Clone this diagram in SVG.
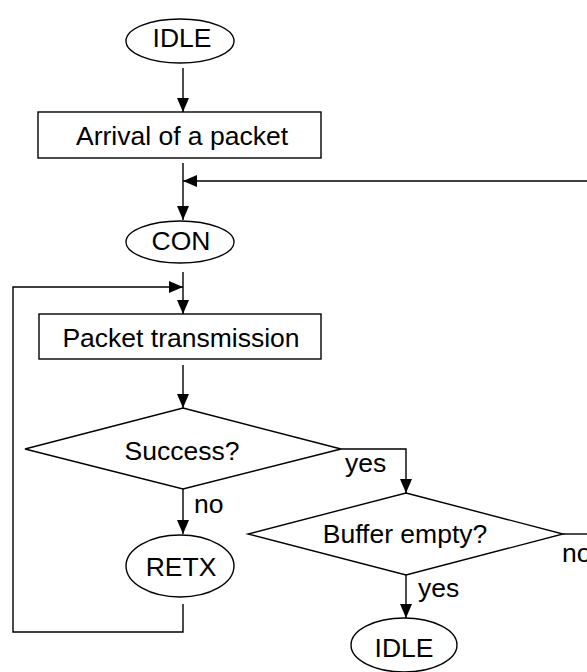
<svg xmlns="http://www.w3.org/2000/svg" width="587" height="672" viewBox="0 0 587 672">
<style>
.s{fill:#fff;stroke:#000;stroke-width:1.4}
.t{font-family:"Liberation Sans",Arial,sans-serif;font-size:26.5px;fill:#000;text-anchor:middle}
.l{font-family:"Liberation Sans",Arial,sans-serif;font-size:26.5px;fill:#000}
.c{fill:none;stroke:#000;stroke-width:1.4}
</style>
<defs>
<marker id="a" viewBox="0 0 14 12" refX="14" refY="6" markerWidth="14" markerHeight="12" markerUnits="userSpaceOnUse" orient="auto">
<path d="M0,0L14,6L0,12z" fill="#000"/>
</marker>
</defs>
<g id="connectors">
<line class="c" x1="183" y1="68" x2="183" y2="112" marker-end="url(#a)"/>
<line class="c" x1="183" y1="163" x2="183" y2="220" marker-end="url(#a)"/>
<line class="c" x1="587" y1="181" x2="183" y2="181" marker-end="url(#a)"/>
<line class="c" x1="183" y1="272" x2="183" y2="314" marker-end="url(#a)"/>
<polyline class="c" points="183,604 183,632 13,632 13,287 183,287" marker-end="url(#a)"/>
<line class="c" x1="183" y1="365" x2="183" y2="408" marker-end="url(#a)"/>
<line class="c" x1="183" y1="489" x2="183" y2="534" marker-end="url(#a)"/>
<polyline class="c" points="341,449 406,449 406,493" marker-end="url(#a)"/>
<line class="c" x1="563" y1="534" x2="587" y2="534"/>
<line class="c" x1="406" y1="575" x2="406" y2="618" marker-end="url(#a)"/>
<text class="l" x="345" y="472">yes</text>
<text class="l" x="194" y="513">no</text>
<text class="l" x="562" y="562">no</text>
<text class="l" x="418" y="597">yes</text>
</g>
<g id="idle1">
<ellipse class="s" cx="180" cy="41" rx="54" ry="22"/>
<text class="t" x="182" y="47">IDLE</text>
</g>
<g id="arrival">
<rect class="s" x="38" y="112" width="283" height="46"/>
<text class="t" x="182" y="145">Arrival of a packet</text>
</g>
<g id="con">
<ellipse class="s" cx="180" cy="242" rx="54" ry="21"/>
<text class="t" x="181" y="250">CON</text>
</g>
<g id="tx">
<rect class="s" x="39" y="314" width="282" height="45"/>
<text class="t" x="181" y="347">Packet transmission</text>
</g>
<g id="success">
<polygon class="s" points="183,408 341,449 183,489 25,449"/>
<text class="t" x="182" y="460">Success?</text>
</g>
<g id="retx">
<ellipse class="s" cx="180" cy="566" rx="54" ry="31"/>
<text class="t" x="181" y="576">RETX</text>
</g>
<g id="buffer">
<polygon class="s" points="406,493 563,534 406,575 248,534"/>
<text class="t" x="405" y="543">Buffer empty?</text>
</g>
<g id="idle2">
<ellipse class="s" cx="404" cy="645" rx="53" ry="27"/>
<text class="t" x="404" y="657">IDLE</text>
</g>
</svg>
